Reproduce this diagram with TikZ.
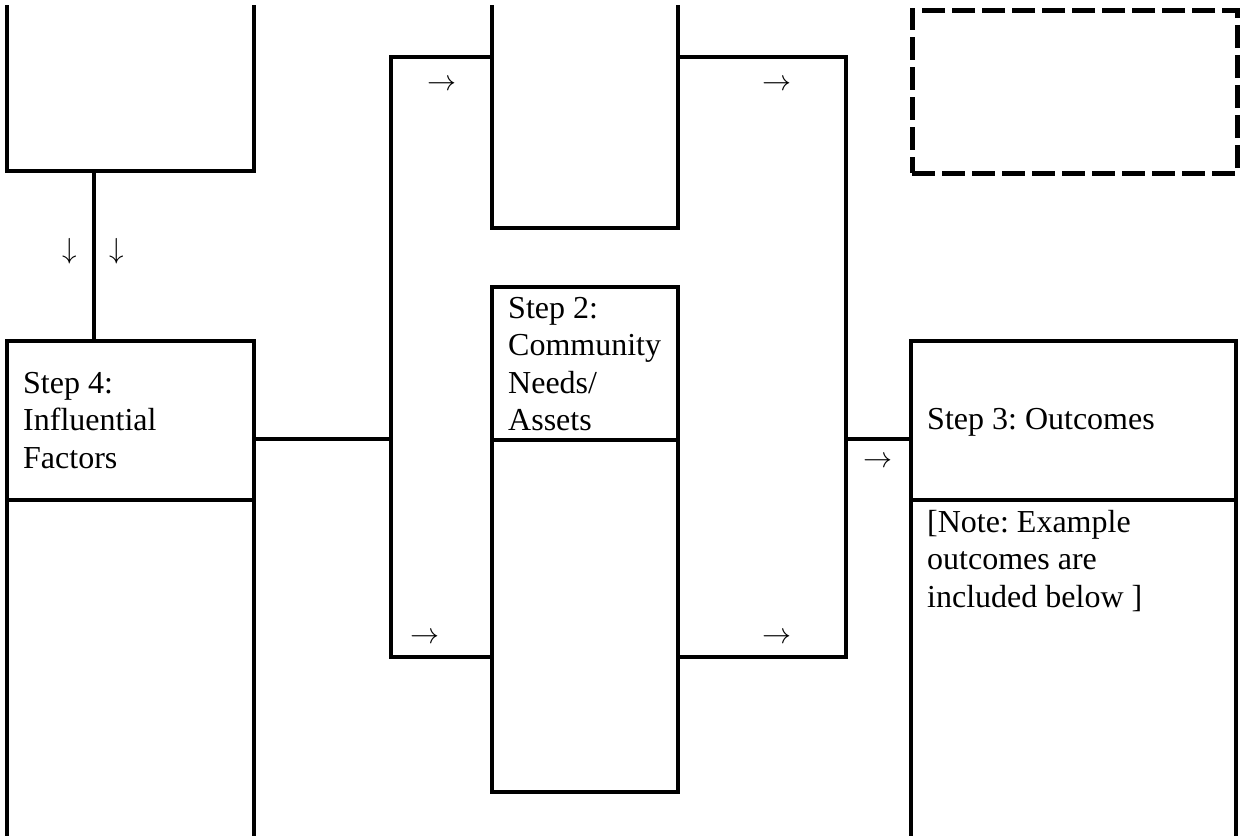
\documentclass[tikz,border=0pt]{standalone}
\usepackage{fontspec}
\usepackage{graphicx}
\setmainfont{Liberation Serif}
\frenchspacing
\begin{document}
\begin{tikzpicture}[x=1pt,y=-1pt,
  line/.style={line width=3.2pt,line cap=rect},
  area/.style={inner sep=0pt,outer sep=0pt},
  label/.style={inner sep=0pt,anchor=north west,align=left,font=\fontsize{32}{37.5}\selectfont},
  arrowtxt/.style={inner sep=0pt},
  dashbox/.style={draw,line width=5pt,dash pattern=on 23pt off 7pt}]
\newcommand{\rarr}{\scalebox{2.9}{$\rightarrow$}}
\newcommand{\darr}{\scalebox{2.9}{$\downarrow$}}
\useasboundingbox[fill=white] (0,0) rectangle (1241,835);
% areas (named nodes)
\node[area,minimum width=247pt,minimum height=164pt] (s1) at (130.5,89) {};
\node[area,minimum width=247pt,minimum height=159pt] (s4h) at (130.5,420.5) {};
\node[area,minimum width=247pt,minimum height=335pt] (s4b) at (130.5,667.5) {};
\node[area,minimum width=186pt,minimum height=221pt] (m1) at (585,117.5) {};
\node[area,minimum width=186pt,minimum height=153pt] (s2h) at (585,363.5) {};
\node[area,minimum width=186pt,minimum height=352pt] (s2b) at (585,616) {};
\node[area,minimum width=325pt,minimum height=159pt] (s3h) at (1073.5,420.5) {};
\node[area,minimum width=325pt,minimum height=335pt] (s3b) at (1073.5,667.5) {};
\node[area,dashbox,minimum width=325pt,minimum height=163pt] (d) at (1074.5,91.5) {};
% box outlines
\draw[line] (s1.north west) -- (s1.south west) -- (s1.south east) -- (s1.north east);
\draw[line] (s4h.north west) rectangle (s4h.south east);
\draw[line] (s4b.south west) -- (s4b.north west) (s4b.north east) -- (s4b.south east);
\draw[line] (m1.north west) -- (m1.south west) -- (m1.south east) -- (m1.north east);
\draw[line] (s2h.north west) rectangle (s2h.south east);
\draw[line] (s2b.north west) -- (s2b.south west) -- (s2b.south east) -- (s2b.north east);
\draw[line] (s3h.north west) rectangle (s3h.south east);
\draw[line] (s3b.south west) -- (s3b.north west) (s3b.north east) -- (s3b.south east);
% connectors
\coordinate (lt) at (391,57);
\coordinate (lb) at (391,657);
\coordinate (rt) at (846,57);
\coordinate (rb) at (846,657);
\draw[line] (s1.south -| 94,0) -- (s4h.north -| 94,0);
\draw[line] (s4h.east |- 0,439) -- (lt |- 0,439);
\draw[line] (m1.west |- lt) -- (lt) -- (lb) -- (s2b.west |- lb);
\draw[line] (m1.east |- rt) -- (rt) -- (rb) -- (s2b.east |- rb);
\draw[line] (rt |- 0,439) -- (s3h.west |- 0,439);
% texts
\node[label] (t4) at (23,372) {Step 4:\\Influential\\Factors};
\node[label] (t2) at (508,297) {Step 2:\\Community\\Needs/\\Assets};
\node[label] (t3) at (927,408) {Step 3: Outcomes};
\node[label] (tn) at (927,510) {[Note: Example\\outcomes are\\included below ]};
% arrow glyphs
\node[arrowtxt] (a1) at (442,85) {\rarr};
\node[arrowtxt] (a2) at (777,85) {\rarr};
\node[arrowtxt] (a3) at (425,638) {\rarr};
\node[arrowtxt] (a4) at (777,638) {\rarr};
\node[arrowtxt] (a5) at (878,462) {\rarr};
\node[arrowtxt] (a6) at (70,251) {\darr};
\node[arrowtxt] (a7) at (117,251) {\darr};
\end{tikzpicture}
\end{document}
